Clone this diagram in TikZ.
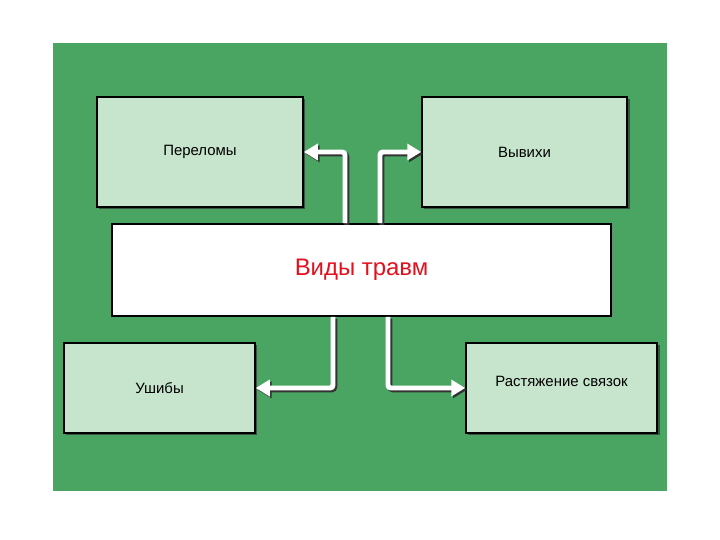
\documentclass[tikz,border=0pt]{standalone}
\usepackage{fontspec}
\setmainfont{Liberation Sans}
\usetikzlibrary{arrows.meta, shadows}
\definecolor{bggreen}{RGB}{74,165,99}
\definecolor{boxgreen}{RGB}{199,229,205}
\definecolor{titlered}{RGB}{228,16,30}

\begin{document}
\begin{tikzpicture}[
    x = 1bp, y = -1bp,
  box/.style = {draw=black, line width=1.6pt, fill=boxgreen,
                font=\fontsize{15}{18}\selectfont,
                drop shadow={shadow xshift=2.5pt, shadow yshift=-2.5pt,
                             opacity=.7, fill=black!80}},
 conn/.style = {draw=white, line width=5pt, rounded corners=3pt,
                -{Triangle[length=14pt, width=16pt]},
                preaction={draw=black!80, line width=5pt,
                           transform canvas={shift={(1.8pt,-1.8pt)}}}}
                    ]
% page and background
\useasboundingbox (0,0) rectangle (720,540);
\fill[white] (0,0) rectangle (720,540);
\fill[bggreen] (53,43) rectangle (667,491);
% boxes
\node[box, minimum width=206bp, minimum height=110bp] (perel) at (200,152) {Переломы};
\node[box, minimum width=205bp, minimum height=110bp] (vyv)   at (524.5,152) {Вывихи};
\node[box, minimum width=191bp, minimum height=90bp]  (ush)   at (159.5,388) {Ушибы};
\node[box, minimum width=191bp, minimum height=90bp, text depth=14pt] (rast) at (561.5,388) {Растяжение связок};
\node[draw=black, line width=1.6pt, fill=white, minimum width=499bp, minimum height=92bp,
      text=titlered, font=\fontsize{24}{28}\selectfont,
      drop shadow={shadow xshift=1.5pt, shadow yshift=-1.5pt, opacity=.5}] (types) at (361.5,270) {Виды травм};
% connectors
\draw[conn] ([xshift=-16.5bp]types.north) |- (perel.east);
\draw[conn] ([xshift=18.5bp]types.north)  |- (vyv.west);
\draw[conn] ([xshift=-28.5bp]types.south) |- (ush.east);
\draw[conn] ([xshift=26.5bp]types.south)  |- (rast.west);
\end{tikzpicture}
\end{document}
